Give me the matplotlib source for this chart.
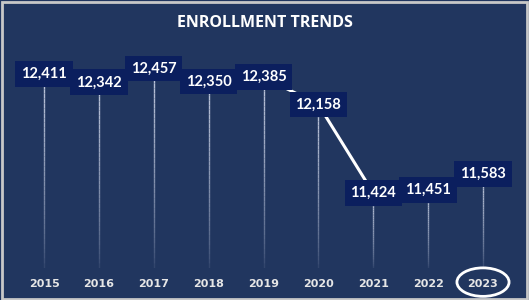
import matplotlib
matplotlib.use("Agg")
import matplotlib.pyplot as plt
import matplotlib.transforms as mtransforms
from matplotlib.patches import Ellipse, Rectangle
from matplotlib.collections import LineCollection
import numpy as np

years = ["2015", "2016", "2017", "2018", "2019", "2020", "2021", "2022", "2023"]
enrollment = [12411, 12342, 12457, 12350, 12385, 12158, 11424, 11451, 11583]

BG = "#21365f"
BOX = "#0b1f5e"

fig = plt.figure(figsize=(5.29, 3.0), dpi=100, facecolor=BG)
ax = fig.add_axes([0.0314, 0.1067, 0.9335, 0.76])
ax.set_facecolor(BG)
x = np.arange(len(years))
ax.set_xlim(-0.5, len(years) - 0.5)
ymin, ymax = 10802, 12693
ax.set_ylim(ymin, ymax)

# fading drop lines
segs, cols = [], []
nseg = 40
for xi, v in zip(x, enrollment):
    ys = np.linspace(v, ymin, nseg + 1)
    for k in range(nseg):
        segs.append([(xi, ys[k]), (xi, ys[k + 1])])
        a = 0.85 * (1 - k / nseg) ** 0.6
        cols.append((0.85, 0.88, 0.95, a))
ax.add_collection(LineCollection(segs, colors=cols, linewidths=1.0, zorder=1))

ax.plot(x, enrollment, color="white", lw=2.2, zorder=2, solid_capstyle="round")

for xi, v in zip(x, enrollment):
    ax.text(xi, v, f"{v:,}", ha="center", va="center", color="white",
            fontsize=10.5, fontweight="bold", family="Lato", zorder=3,
            bbox=dict(boxstyle="square,pad=0.4", fc=BOX, ec="none"))

ax.set_xticks(x)
ax.set_xticklabels(years, fontsize=8, fontweight="bold", color="#e6e6e6")
ax.tick_params(axis="x", length=0, pad=8)
ax.set_yticks([])
for s in ax.spines.values():
    s.set_visible(False)

trans = mtransforms.blended_transform_factory(ax.transData, ax.transAxes)
ax.add_patch(Ellipse((x[-1], -0.062), width=0.95, height=0.125, transform=trans,
                     fill=False, ec="white", lw=2, clip_on=False))

fig.text(0.5, 1 - 23 / 300, "ENROLLMENT TRENDS", ha="center", va="center",
         color="white", fontsize=11.5, fontweight="bold", family="Open Sans")

fig.add_artist(Rectangle((0.003, 0.004), 0.994, 0.99, transform=fig.transFigure,
                         fill=False, ec="#c8c8c8", lw=2))

fig.savefig("out.png", dpi=100, facecolor=BG)
